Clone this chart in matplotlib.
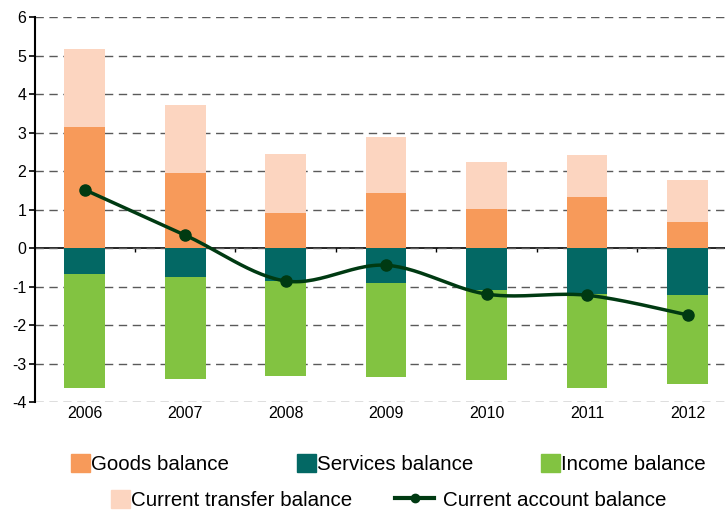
import numpy as np
import matplotlib
matplotlib.use("Agg")
import matplotlib.pyplot as plt
from matplotlib.lines import Line2D
from matplotlib.patches import Patch

plt.rcParams['font.family'] = ['Liberation Sans', 'DejaVu Sans']
plt.rcParams['axes.unicode_minus'] = False

years = ['2006', '2007', '2008', '2009', '2010', '2011', '2012']
goods = [3.15, 1.96, 0.92, 1.44, 1.02, 1.32, 0.68]
transfer = [2.02, 1.77, 1.52, 1.46, 1.23, 1.10, 1.09]
services = [-0.66, -0.75, -0.85, -0.90, -1.08, -1.19, -1.21]
income = [-2.98, -2.64, -2.46, -2.44, -2.34, -2.45, -2.31]
current_account = [1.52, 0.34, -0.85, -0.44, -1.19, -1.22, -1.73]

c_goods = '#F79A5A'
c_transfer = '#FCD5C0'
c_services = '#036864'
c_income = '#82C341'
c_line = '#003A12'


def smooth(xs, ys, n=30):
    # catmull-rom style smoothing like the spreadsheet "smoothed line"
    xs = np.asarray(xs, float)
    ys = np.asarray(ys, float)
    px = np.concatenate([[xs[0]], xs, [xs[-1]]])
    py = np.concatenate([[ys[0]], ys, [ys[-1]]])
    ox, oy = [], []
    for i in range(1, len(px) - 2):
        p0 = np.array([px[i], py[i]])
        p3 = np.array([px[i + 1], py[i + 1]])
        p1 = p0 + (p3 - np.array([px[i - 1], py[i - 1]])) / 6
        p2 = p3 - (np.array([px[i + 2], py[i + 2]]) - p0) / 6
        t = np.linspace(0, 1, n)[:, None]
        pts = ((1 - t) ** 3) * p0 + 3 * ((1 - t) ** 2) * t * p1 + 3 * (1 - t) * t ** 2 * p2 + t ** 3 * p3
        ox.extend(pts[:, 0])
        oy.extend(pts[:, 1])
    return np.array(ox), np.array(oy)


fig = plt.figure(figsize=(7.25, 5.13), dpi=100)
ax = fig.add_axes([0.0476, 0.2158, 0.970, 0.7505])

x = np.arange(len(years))
w = 0.405
goods_a = np.array(goods)
serv_a = np.array(services)
ax.bar(x, goods, w, color=c_goods, zorder=2)
ax.bar(x, transfer, w, bottom=goods_a, color=c_transfer, zorder=2)
ax.bar(x, services, w, color=c_services, zorder=2)
ax.bar(x, income, w, bottom=serv_a, color=c_income, zorder=2)

sx, sy = smooth(x, current_account)
ax.plot(sx, sy, color=c_line, lw=2.5, zorder=4, solid_capstyle='round')
ax.plot(x, current_account, 'o', color=c_line, ms=8, zorder=5)

ax.set_xlim(-0.5, len(years) - 0.5)
ax.set_ylim(-4, 6)
ax.set_yticks(range(-4, 7))
ax.yaxis.grid(True, color='#5a5a5a', lw=1.0, dashes=(6, 4))
ax.set_axisbelow(True)

for s in ['top', 'right', 'bottom']:
    ax.spines[s].set_visible(False)
ax.spines['left'].set_linewidth(1.5)
ax.tick_params(axis='y', direction='out', length=4, width=1.2, labelsize=11.5, pad=2)
ax.set_xticks(x)
ax.set_xticklabels(years)
ax.tick_params(axis='x', length=0, labelsize=11.5, pad=3)

# category axis at zero with boundary tick marks
sec = ax.secondary_xaxis(0.4)
sec.set_xticks(np.arange(0.5, len(years) - 0.5, 1))
sec.set_xticklabels([])
sec.tick_params(direction='out', length=3, width=1)
sec.spines['bottom'].set_linewidth(1.2)
sec.spines['bottom'].set_zorder(6)

lg_kw = dict(frameon=False, fontsize=14.8, handlelength=0.93, handleheight=0.93,
             handletextpad=0.05, borderpad=0, borderaxespad=0)
h1 = [Patch(color=c_goods), Patch(color=c_services), Patch(color=c_income)]
leg1 = fig.legend(h1, ['Goods balance', 'Services balance', 'Income balance'], ncol=3,
                  loc='center left', bbox_to_anchor=(71 / 725, 1 - 464 / 513),
                  columnspacing=3.3, **lg_kw)
leg2 = fig.legend([Patch(color=c_transfer)], ['Current transfer balance'],
                  loc='center left', bbox_to_anchor=(111 / 725, 1 - 500 / 513), **lg_kw)
leg3 = fig.legend([Line2D([], [], color=c_line, lw=3, marker='o', ms=6)],
                  ['Current account balance'], loc='center left',
                  bbox_to_anchor=(395 / 725, 1 - 500 / 513), frameon=False, fontsize=14.8,
                  handlelength=1.9, handletextpad=0.45, borderpad=0, borderaxespad=0)

fig.savefig('out.png', dpi=100)
